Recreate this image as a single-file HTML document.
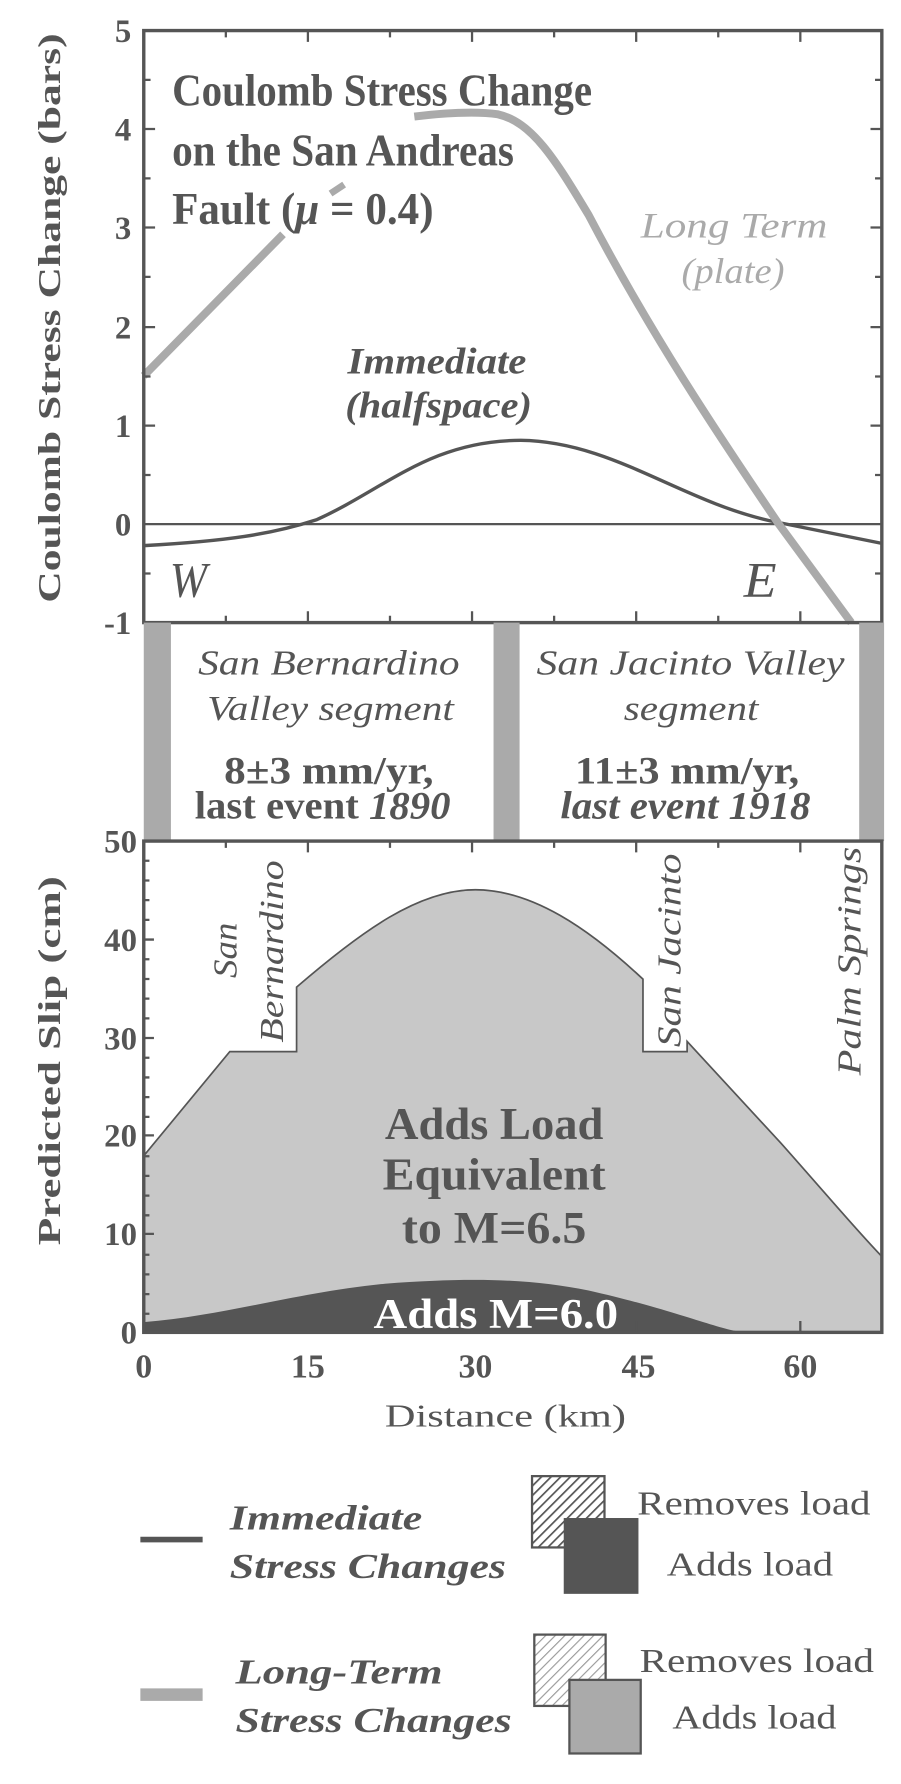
<!DOCTYPE html>
<html><head><style>body{margin:0;background:#fff}svg{display:block}</style></head><body>
<svg width="901" height="1784" xmlns="http://www.w3.org/2000/svg" font-family="Liberation Serif, serif">
<defs>
<pattern id="h1" width="6" height="6" patternUnits="userSpaceOnUse" patternTransform="rotate(45)"><rect width="6" height="6" fill="#fff"/><line x1="0" y1="0" x2="0" y2="6" stroke="#555" stroke-width="3"/></pattern>
<pattern id="h2" width="6" height="6" patternUnits="userSpaceOnUse" patternTransform="rotate(45)"><rect width="6" height="6" fill="#fff"/><line x1="0" y1="0" x2="0" y2="6" stroke="#999" stroke-width="2"/></pattern>
</defs>
<g transform="scale(1.132)" fill="#555" font-weight="bold">
<!-- top plot -->
<line x1="127" y1="463" x2="779" y2="463" stroke="#555" stroke-width="2"/>
<path d="M127,482 C200,478 240,472 280,459 C340,432 380,389 460,389 C540,390 600,442 680,460 C720,468 750,474 779,480" fill="none" stroke="#555" stroke-width="3"/>
<path d="M127,332 L250,207" fill="none" stroke="#aaa" stroke-width="7"/>
<path d="M292,171 L304,163" fill="none" stroke="#aaa" stroke-width="6"/>
<path d="M366,103 C390,100 420,98 440,101 C470,108 490,140 520,190 C575,295 635,385 688,463 L752,550" fill="none" stroke="#aaa" stroke-width="7"/>
<rect x="127" y="27" width="652" height="523" fill="none" stroke="#555" stroke-width="3"/>
<g stroke="#555" stroke-width="2">
<path d="M127,70.6h6M127,114h10M127,157.6h6M127,201h10M127,244.6h6M127,289h10M127,332.6h6M127,376h10M127,419.6h6M127,506.6h6"/>
<path d="M779,70.6h-6M779,114h-10M779,157.6h-6M779,201h-10M779,244.6h-6M779,289h-10M779,332.6h-6M779,376h-10M779,419.6h-6M779,506.6h-6"/>
<path d="M199.5,550v-6M272,550v-10M344.5,550v-6M417,550v-10M489.5,550v-6M562,550v-10M634.5,550v-6M707,550v-10"/>
<path d="M199.5,27v6M272,27v10M344.5,27v6M417,27v10M489.5,27v6M562,27v10M634.5,27v6M707,27v10"/>
</g>
<g font-size="29" text-anchor="end">
<text x="116" y="37">5</text><text x="116" y="124">4</text><text x="116" y="211">3</text><text x="116" y="299">2</text><text x="116" y="386">1</text><text x="116" y="473">0</text><text x="116" y="560">-1</text>
</g>
<text transform="translate(53,281) rotate(-90)" font-size="28" text-anchor="middle" textLength="503" lengthAdjust="spacingAndGlyphs">Coulomb Stress Change (bars)</text>
<g font-size="40">
<text x="152" y="93" textLength="371" lengthAdjust="spacingAndGlyphs">Coulomb Stress Change</text>
<text x="152" y="146" textLength="302" lengthAdjust="spacingAndGlyphs">on the San Andreas</text>
<text x="152" y="198" textLength="231" lengthAdjust="spacingAndGlyphs">Fault  (<tspan font-style="italic">μ</tspan> = 0.4)</text>
</g>
<g font-style="italic" font-weight="normal" font-size="32" fill="#aaa"><text x="566" y="210" textLength="165" lengthAdjust="spacingAndGlyphs">Long Term</text><text x="602" y="250" textLength="91" lengthAdjust="spacingAndGlyphs">(plate)</text></g>
<g font-style="italic" font-size="33"><text x="307" y="330" textLength="158" lengthAdjust="spacingAndGlyphs">Immediate</text><text x="305" y="369" textLength="165" lengthAdjust="spacingAndGlyphs">(halfspace)</text></g>
<g font-style="italic" font-weight="normal" font-size="44"><text x="150" y="527" textLength="33" lengthAdjust="spacingAndGlyphs">W</text><text x="657" y="527" textLength="29" lengthAdjust="spacingAndGlyphs">E</text></g>
<!-- middle band -->
<rect x="127" y="550" width="24" height="193" fill="#aaa"/><rect x="436" y="550" width="23" height="193" fill="#aaa"/><rect x="759" y="550" width="22" height="193" fill="#aaa"/>
<g font-style="italic" font-weight="normal" font-size="31"><text x="175" y="596" textLength="231" lengthAdjust="spacingAndGlyphs">San Bernardino</text><text x="183" y="636" textLength="218" lengthAdjust="spacingAndGlyphs">Valley segment</text><text x="474" y="596" textLength="272" lengthAdjust="spacingAndGlyphs">San Jacinto Valley</text><text x="551" y="636" textLength="119" lengthAdjust="spacingAndGlyphs">segment</text></g>
<g font-size="35"><text x="198" y="692" textLength="185" lengthAdjust="spacingAndGlyphs">8±3 mm/yr,</text><text x="172" y="723" textLength="226" lengthAdjust="spacingAndGlyphs">last event <tspan font-style="italic">1890</tspan></text><text x="508" y="692" textLength="198" lengthAdjust="spacingAndGlyphs">11±3 mm/yr,</text><text x="495" y="723" font-style="italic" textLength="221" lengthAdjust="spacingAndGlyphs">last event 1918</text></g>
<!-- bottom plot -->
<path d="M127,1021 L203,929 L262,929 L262,872 C320,822 370,786 420,786 C470,786 520,820 568,865 L568,929 L607,929 L607,920 L690,1010 C730,1055 755,1085 779,1110 L779,1177 L127,1177 Z" fill="#c8c8c8" stroke="#555" stroke-width="1.5"/>
<path d="M127,1168 C200,1162 260,1142 340,1134 C420,1128 470,1130 520,1140 C600,1158 640,1177 660,1177 L127,1177 Z" fill="#555"/>
<rect x="127" y="743" width="652" height="434" fill="none" stroke="#555" stroke-width="3"/>
<g stroke="#555" stroke-width="2">
<path d="M127,760.4h5M127,777.8h5M127,795.2h5M127,812.6h5M127,830h9M127,847.4h5M127,864.8h5M127,882.2h5M127,899.6h5M127,917h9M127,934.4h5M127,951.8h5M127,969.2h5M127,986.6h5M127,1003h9M127,1021.4h5M127,1038.8h5M127,1056.2h5M127,1073.6h5M127,1090h9M127,1108.4h5M127,1125.8h5M127,1143.2h5M127,1160.6h5"/>
<path d="M272,1177v-10M417,1177v-10M562,1177v-10M707,1177v-10M272,743v10M417,743v10M562,743v10M707,743v10M199.5,743v6M344.5,743v6M489.5,743v6M634.5,743v6"/>
</g>
<g font-size="29" text-anchor="end">
<text x="121" y="753">50</text><text x="121" y="840">40</text><text x="121" y="927">30</text><text x="121" y="1013">20</text><text x="121" y="1100">10</text><text x="121" y="1187">0</text>
</g>
<g font-size="30" text-anchor="middle"><text x="127" y="1217">0</text><text x="272" y="1217">15</text><text x="420" y="1217">30</text><text x="564" y="1217">45</text><text x="707" y="1217">60</text></g>
<text x="340" y="1260" font-size="28" font-weight="normal" textLength="213" lengthAdjust="spacingAndGlyphs">Distance  (km)</text>
<text transform="translate(53,937) rotate(-90)" font-size="28" text-anchor="middle" textLength="326" lengthAdjust="spacingAndGlyphs">Predicted Slip (cm)</text>
<g font-style="italic" font-weight="normal" font-size="30">
<text transform="translate(209,864) rotate(-90)" textLength="49" lengthAdjust="spacingAndGlyphs">San</text>
<text transform="translate(250,921) rotate(-90)" textLength="161" lengthAdjust="spacingAndGlyphs">Bernardino</text>
<text transform="translate(601,925) rotate(-90)" textLength="171" lengthAdjust="spacingAndGlyphs">San Jacinto</text>
<text transform="translate(760,950) rotate(-90)" textLength="202" lengthAdjust="spacingAndGlyphs">Palm Springs</text>
</g>
<g font-size="40"><text x="340" y="1006" textLength="193" lengthAdjust="spacingAndGlyphs">Adds Load</text><text x="338" y="1051" textLength="197" lengthAdjust="spacingAndGlyphs">Equivalent</text><text x="355" y="1098" textLength="163" lengthAdjust="spacingAndGlyphs">to M=6.5</text></g>
<text x="330" y="1173" font-size="37" fill="#fff" textLength="216" lengthAdjust="spacingAndGlyphs">Adds M=6.0</text>
<!-- legend -->
<line x1="124" y1="1360" x2="179" y2="1360" stroke="#555" stroke-width="5"/>
<g font-style="italic" font-size="31"><text x="203" y="1351" textLength="170" lengthAdjust="spacingAndGlyphs">Immediate</text><text x="203" y="1394" textLength="244" lengthAdjust="spacingAndGlyphs">Stress Changes</text><text x="208" y="1487" textLength="183" lengthAdjust="spacingAndGlyphs">Long-Term</text><text x="208" y="1530" textLength="244" lengthAdjust="spacingAndGlyphs">Stress Changes</text></g>
<rect x="470" y="1304" width="64" height="63" fill="url(#h1)" stroke="#555" stroke-width="2"/>
<rect x="499" y="1342" width="64" height="65" fill="#555" stroke="#555" stroke-width="2"/>
<line x1="124" y1="1497" x2="179" y2="1497" stroke="#aaa" stroke-width="11"/>
<rect x="472" y="1444" width="63" height="63" fill="url(#h2)" stroke="#555" stroke-width="2"/>
<rect x="503" y="1484" width="63" height="65" fill="#aaa" stroke="#555" stroke-width="2"/>
<g font-weight="normal" font-size="30"><text x="563" y="1338" textLength="206" lengthAdjust="spacingAndGlyphs">Removes load</text><text x="589" y="1392" textLength="147" lengthAdjust="spacingAndGlyphs">Adds load</text><text x="565" y="1477" textLength="207" lengthAdjust="spacingAndGlyphs">Removes load</text><text x="594" y="1527" textLength="145" lengthAdjust="spacingAndGlyphs">Adds load</text></g>
</g>
</svg>
</body></html>
